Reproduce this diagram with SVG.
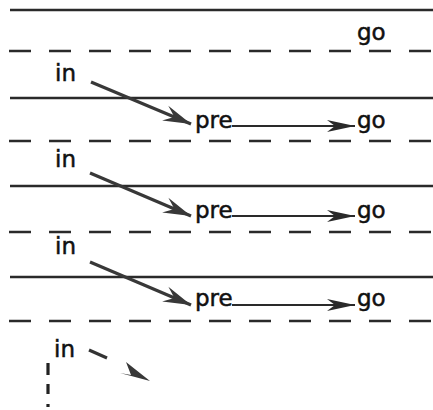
<svg xmlns="http://www.w3.org/2000/svg" width="433" height="410" viewBox="0 0 433 410">
<defs>
<style>
.solid{stroke:#2a2a2a;stroke-width:2.5;fill:none}
.dash{stroke:#2a2a2a;stroke-width:2.6;stroke-dasharray:22 18;fill:none}
.diag{stroke:#383838;stroke-width:3.2;fill:none;marker-end:url(#headBig)}
.hor{stroke:#2a2a2a;stroke-width:2.2;fill:none;marker-end:url(#headSmall)}
.lbl{font-family:"DejaVu Sans",sans-serif;font-size:23px;fill:#111;stroke:#111;stroke-width:0.5}
</style>
<marker id="headBig" markerUnits="userSpaceOnUse" viewBox="-30 -10 32 20" refX="0" refY="0" markerWidth="32" markerHeight="20" orient="auto">
<path d="M0,0 L-28,-8 L-18,0 L-28,8 Z" fill="#383838"/>
</marker>
<marker id="headSmall" markerUnits="userSpaceOnUse" viewBox="-30 -10 32 20" refX="0" refY="0" markerWidth="32" markerHeight="20" orient="auto">
<path d="M0,0 L-28,-6 L-20,0 L-28,6 Z" fill="#2a2a2a"/>
</marker>
</defs>
<rect width="433" height="410" fill="#fff"/>
<g id="lanes">
<line class="solid" x1="10" y1="10" x2="433" y2="10"/>
<line class="dash" x1="9" y1="51" x2="433" y2="51"/>
<line class="solid" x1="10" y1="98" x2="433" y2="98"/>
<line class="dash" x1="9" y1="141" x2="433" y2="141"/>
<line class="solid" x1="10" y1="186" x2="433" y2="186"/>
<line class="dash" x1="9" y1="232" x2="433" y2="232"/>
<line class="solid" x1="10" y1="277" x2="433" y2="277"/>
<line class="dash" x1="9" y1="321" x2="433" y2="321"/>
</g>
<g id="labels">
<g id="go0"><text class="lbl" x="357" y="40">go</text></g>
<g id="in1"><text class="lbl" x="55" y="81">in</text></g>
<g id="pre1"><text class="lbl" x="195" y="128">pre</text></g>
<g id="go1"><text class="lbl" x="357" y="128">go</text></g>
<g id="in2"><text class="lbl" x="55" y="167">in</text></g>
<g id="pre2"><text class="lbl" x="195" y="218">pre</text></g>
<g id="go2"><text class="lbl" x="357" y="218">go</text></g>
<g id="in3"><text class="lbl" x="55" y="254">in</text></g>
<g id="pre3"><text class="lbl" x="195" y="306">pre</text></g>
<g id="go3"><text class="lbl" x="357" y="306">go</text></g>
<g id="in4"><text class="lbl" x="54" y="357">in</text></g>
</g>
<g id="connectors">
<line class="diag" x1="91" y1="82" x2="191" y2="124"/>
<line class="hor" x1="232" y1="126" x2="355" y2="126"/>
<line class="diag" x1="90" y1="173" x2="191" y2="216"/>
<line class="hor" x1="232" y1="216" x2="355" y2="216"/>
<line class="diag" x1="90" y1="262" x2="191" y2="305"/>
<line class="hor" x1="232" y1="305" x2="355" y2="305"/>
<line x1="89" y1="350" x2="107" y2="358" stroke="#333" stroke-width="3.2"/>
<path d="M150,381 L120,373 L131,375 L126,362 Z" fill="#383838"/>
<line x1="48" y1="363" x2="48" y2="410" stroke="#222" stroke-width="3.2" stroke-dasharray="12 9 10 10 3 10"/>
</g>
</svg>
